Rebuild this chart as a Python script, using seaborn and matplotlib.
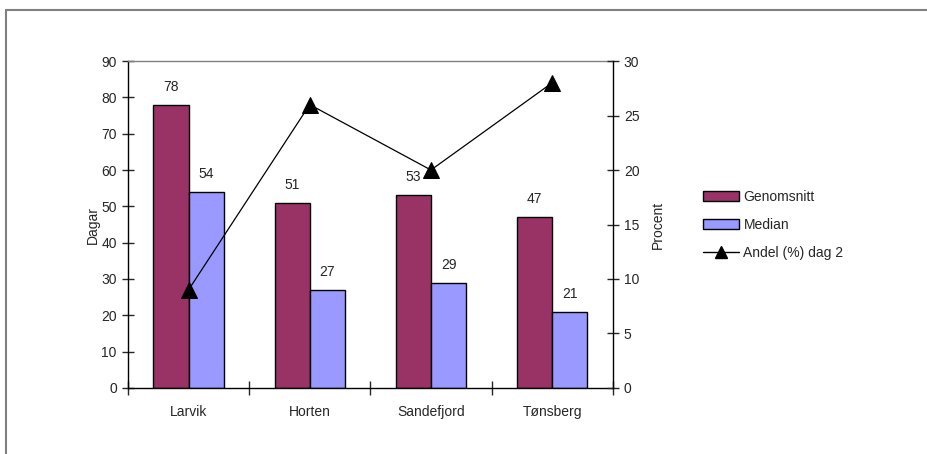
import numpy as np
import pandas as pd
import matplotlib
matplotlib.use("Agg")
import matplotlib.pyplot as plt
import seaborn as sns
from matplotlib.patches import Patch
from matplotlib.lines import Line2D

# data
cities = ["Larvik", "Horten", "Sandefjord", "Tønsberg"]
genomsnitt = [78, 51, 53, 47]
median = [54, 27, 29, 21]
andel_dag2 = [9, 26, 20, 28]

sns.set_theme(style="white")
plt.rcParams['font.family'] = ['Liberation Sans', 'DejaVu Sans']

df = pd.DataFrame({
    "Stad": cities * 2,
    "Dagar": genomsnitt + median,
    "Serie": ["Genomsnitt"] * 4 + ["Median"] * 4,
})
df_line = pd.DataFrame({"Stad": cities, "Procent": andel_dag2})

fig = plt.figure(figsize=(9.27, 4.54), dpi=100)
ax = fig.add_axes([0.138, 0.1454, 0.523, 0.7202])

pal = {"Genomsnitt": "#993366", "Median": "#9999FF"}
sns.barplot(data=df, x="Stad", y="Dagar", hue="Serie", palette=pal,
            width=0.58, edgecolor="black", linewidth=1, saturation=1,
            legend=False, ax=ax)

for c in ax.containers:
    ax.bar_label(c, padding=8, fontsize=10)

ax.set_ylim(0, 90)
ax.set_yticks(range(0, 91, 10))
ax.set_xlim(-0.5, 3.5)
ax.set_xlabel("")
ax.set_ylabel("Dagar", fontsize=10, labelpad=1)
ax.tick_params(axis="y", direction="inout", length=8, width=1, labelsize=10, left=True, pad=4)
ax.tick_params(axis="x", which="major", length=0, labelsize=10, pad=12)
ax.set_xticks(np.arange(-0.5, 3.6, 1), minor=True)
ax.tick_params(axis="x", which="minor", direction="inout", length=10, width=1, bottom=True)
for s in ["left", "bottom"]:
    ax.spines[s].set_color("black")
    ax.spines[s].set_linewidth(1)
ax.spines["top"].set_color("#808080")
ax.spines["top"].set_linewidth(1)
ax.spines["right"].set_visible(False)

ax2 = ax.twinx()
sns.lineplot(data=df_line, x="Stad", y="Procent", color="black", linewidth=0.9,
             marker="^", markersize=11, markeredgecolor="black", ax=ax2)
ax2.set_ylim(0, 30)
ax2.set_yticks(range(0, 31, 5))
ax2.set_xlim(-0.5, 3.5)
ax2.set_ylabel("Procent", fontsize=10, labelpad=8)
ax2.tick_params(axis="y", direction="inout", length=8, width=1, labelsize=10, right=True, pad=4)
for s in ["left", "top", "bottom"]:
    ax2.spines[s].set_visible(False)
ax2.spines["right"].set_color("black")
ax2.spines["right"].set_linewidth(1)

handles = [
    Patch(facecolor="#993366", edgecolor="black", label="Genomsnitt"),
    Patch(facecolor="#9999FF", edgecolor="black", label="Median"),
    Line2D([0], [0], color="black", lw=1, marker="^", markersize=9, label="Andel (%) dag 2"),
]
fig.legend(handles=handles, loc="center left", bbox_to_anchor=(0.745, 0.505),
           frameon=False, fontsize=10, handlelength=2.6, handleheight=0.8,
           labelspacing=1.0, handletextpad=0.3)

# outer chart border
fig.add_artist(Line2D([6 / 927, 6 / 927], [0, 1 - 10 / 454], transform=fig.transFigure,
                      color="#808080", lw=1.5))
fig.add_artist(Line2D([6 / 927, 1], [1 - 10 / 454, 1 - 10 / 454], transform=fig.transFigure,
                      color="#808080", lw=1.5))

fig.savefig("out.png", dpi=100)
